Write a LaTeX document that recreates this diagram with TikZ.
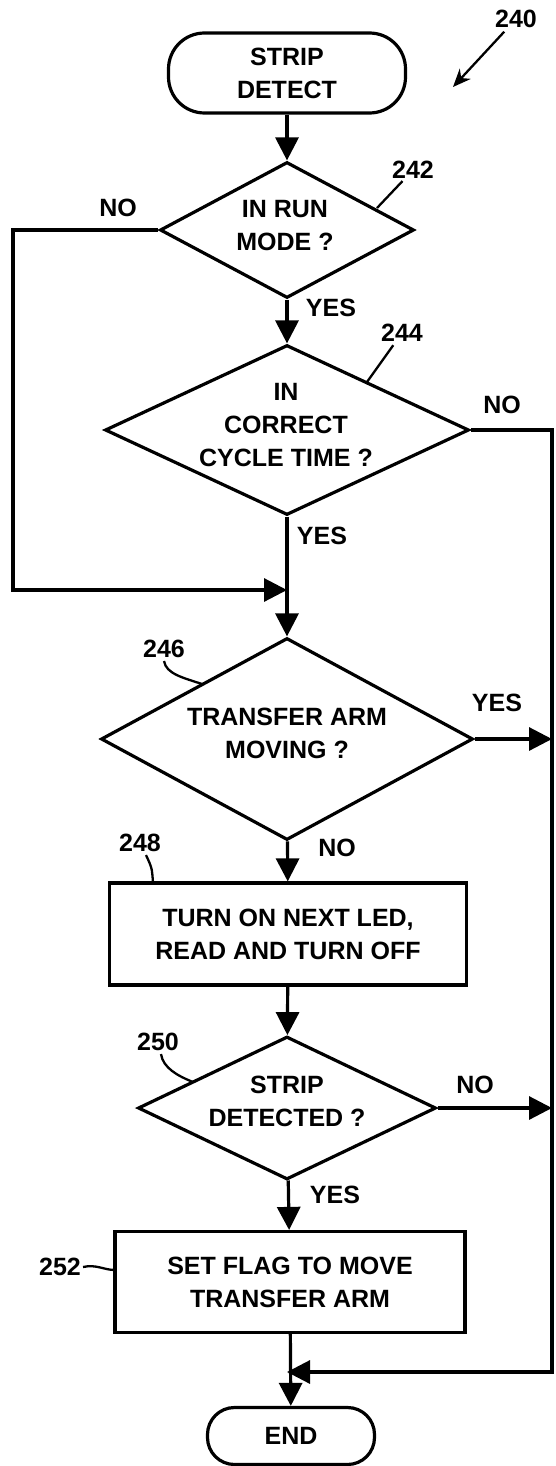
\documentclass[tikz,border=0pt]{standalone}
\usepackage{fontspec}
\setmainfont{Liberation Sans}
\usetikzlibrary{arrows.meta,shapes.geometric}
\begin{document}
\begin{tikzpicture}[x=1pt,y=-1pt,
  every node/.style={font=\fontsize{25}{33}\selectfont\bfseries},
  flow/.style={line width=3.2pt,-{Triangle[length=23pt,width=23pt]}},
  lead/.style={line width=2.3pt},
  dia/.style={draw,line width=3.2pt,shape=diamond,inner sep=0pt},
  box/.style={draw,line width=3.2pt,rectangle,inner sep=0pt,align=center},
  term/.style={draw,line width=3.2pt,rectangle,rounded corners=36pt,inner sep=0pt,align=center},
  txt/.style={align=center,inner sep=0pt},
  lbl/.style={inner sep=0pt},
]
\useasboundingbox (0,0) rectangle (555,1466);

% main shapes
\node[term,minimum width=237pt,minimum height=80pt] (start) at (287,73) {STRIP\\DETECT};
\node[dia,minimum width=254pt,minimum height=136pt] (d242) at (287,230) {};
\node[txt] (t242) at (285,226) {IN RUN\\MODE ?};
\node[dia,minimum width=364pt,minimum height=170pt] (d244) at (287,430) {};
\node[txt] (t244) at (286,425) {IN\\CORRECT\\CYCLE TIME ?};
\node[dia,minimum width=372pt,minimum height=202pt] (d246) at (287,739) {};
\node[txt] (t246) at (287,733) {TRANSFER ARM\\MOVING ?};
\node[box,minimum width=357pt,minimum height=102pt] (b248) at (288,934) {TURN ON NEXT LED,\\READ AND TURN OFF};
\node[dia,minimum width=298pt,minimum height=143pt] (d250) at (287,1108) {};
\node[txt] (t250) at (287,1101) {STRIP\\DETECTED ?};
\node[box,minimum width=350pt,minimum height=101pt] (b252) at (290,1282) {SET FLAG TO MOVE\\TRANSFER ARM};
\node[term,minimum width=167pt,minimum height=57pt,rounded corners=27pt] (end) at (291,1436) {END};

% junction coordinates
\coordinate (mL) at (13,590);
\coordinate (m1) at (287,590);
\coordinate (rB) at (552,1372);
\coordinate (m2) at (287,1372);
\coordinate (r1) at (552,739);
\coordinate (r2) at (552,1108);

% flow connectors
\draw[flow] (start) -- (d242);
\draw[flow] (d242) -- (d244);
\draw[flow] (d242.west) -| (mL) -- (m1);
\draw[flow] (d244) -- (d246);
\draw[flow] (d244.east) -| (rB) -- (m2);
\draw[flow] (d246.east) -- (r1);
\draw[flow] (d246) -- (b248);
\draw[flow] (b248) -- (d250);
\draw[flow] (d250.east) -- (r2);
\draw[flow] (d250) -- (b252);
\draw[flow] (b252) -- (end);

% branch labels
\node[lbl] (no242) at (118,208) {NO};
\node[lbl] (yes242) at (331,308) {YES};
\node[lbl] (no244) at (502,405) {NO};
\node[lbl] (yes244) at (322,536) {YES};
\node[lbl] (yes246) at (497,703) {YES};
\node[lbl] (no246) at (337,848) {NO};
\node[lbl] (no250) at (475,1085) {NO};
\node[lbl] (yes250) at (335,1195) {YES};

% reference numerals
\node[lbl] (n240) at (516,19) {240};
\coordinate (a240) at (453,87);
\draw[lead,shorten <=5pt,-{Stealth[length=18pt,width=15pt]}] (n240) -- (a240);

\node[lbl] (n242) at (413,170) {242};
\coordinate (c242) at (377,208);
\draw[lead,shorten <=3pt] (n242) -- (c242);

\node[lbl] (n244) at (402,333) {244};
\coordinate (c244) at (367,382);
\draw[lead,shorten <=4pt] (n244) -- (c244);

\node[lbl] (n246) at (164,649) {246};
\coordinate (c246) at (202,684);
\draw[lead] ([yshift=-3pt]n246.south) .. controls (166,674) and (184,678) .. (c246);

\node[lbl] (n248) at (140,843) {248};
\coordinate (c248) at (153,883);
\draw[lead] ([xshift=6pt,yshift=-3pt]n248.south) .. controls (152,868) .. (c248);

\node[lbl] (n250) at (158,1042) {250};
\coordinate (c250) at (193,1082);
\draw[lead] ([xshift=3pt,yshift=-3pt]n250.south) .. controls (163,1068) and (178,1076) .. (c250);

\node[lbl] (n252) at (60,1267) {252};
\coordinate (c252) at (115,1270);
\draw[lead] ([xshift=2pt]n252.east) .. controls (96,1264) and (104,1270) .. (c252);
\end{tikzpicture}
\end{document}
